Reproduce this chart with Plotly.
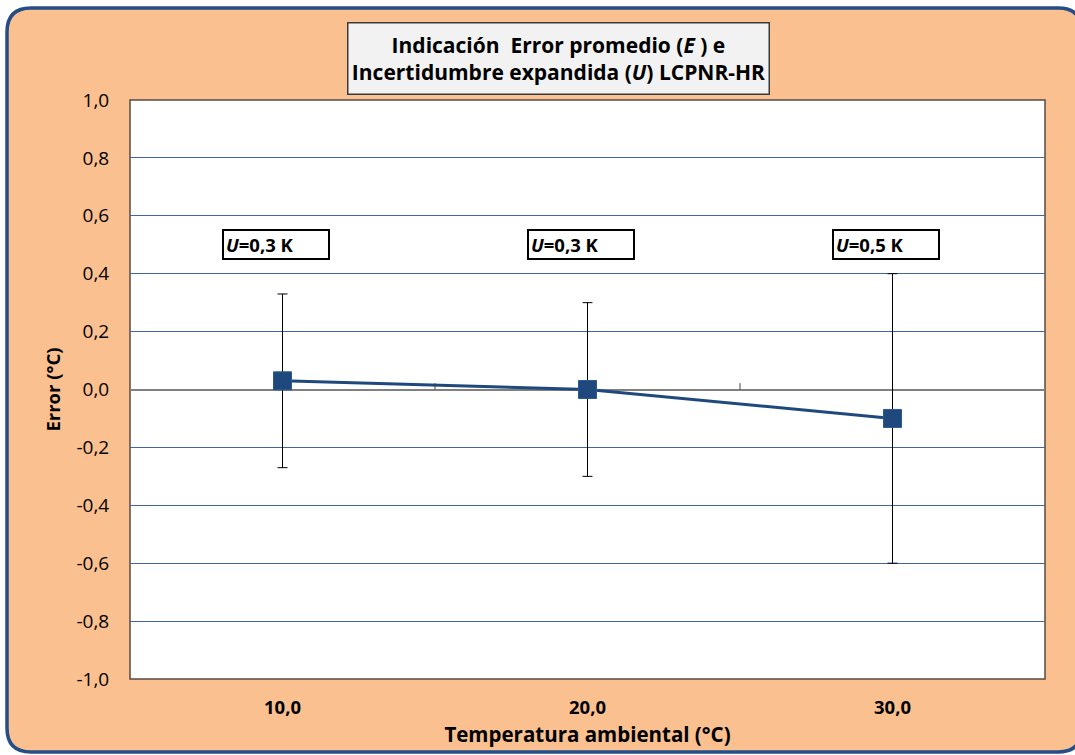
import plotly.graph_objects as go

# ---- data ----
temperatures = ["10,0", "20,0", "30,0"]
error_mean = [0.03, 0.0, -0.10]
uncertainty = [0.3, 0.3, 0.5]
y_ticks = [-1.0, -0.8, -0.6, -0.4, -0.2, 0.0, 0.2, 0.4, 0.6, 0.8, 1.0]
y_ticktext = [f"{v:.1f}".replace(".", ",") for v in y_ticks]

W, H = 1075, 755
ML, MR, MT, MB = 130, 30, 100, 76
PW, PH = W - ML - MR, H - MT - MB


def px(x):
    return (x - ML) / PW


def py(y):
    return (H - MB - y) / PH


BLUE = "#1F497D"
FONT = "Open Sans"

fig = go.Figure()
fig.add_trace(go.Scatter(
    x=temperatures, y=error_mean,
    mode="lines+markers",
    line=dict(color=BLUE, width=3),
    marker=dict(symbol="square", size=18, color=BLUE, line=dict(color="#2B5A92", width=1)),
    error_y=dict(type="data", array=uncertainty, visible=True, color="black", thickness=1, width=5),
    showlegend=False,
))

# outer rounded frame
x0, x1, y0, y1, r = 7, 1082, 8, 752, 24
path = (
    f"M {px(x0+r)} {py(y0)} L {px(x1-r)} {py(y0)} Q {px(x1)} {py(y0)} {px(x1)} {py(y0+r)} "
    f"L {px(x1)} {py(y1-r)} Q {px(x1)} {py(y1)} {px(x1-r)} {py(y1)} "
    f"L {px(x0+r)} {py(y1)} Q {px(x0)} {py(y1)} {px(x0)} {py(y1-r)} "
    f"L {px(x0)} {py(y0+r)} Q {px(x0)} {py(y0)} {px(x0+r)} {py(y0)} Z"
)
shapes = [
    dict(type="path", path=path, xref="paper", yref="paper", fillcolor="#FAC090",
         line=dict(color="#254E86", width=3.5), layer="below"),
    dict(type="rect", x0=0, x1=1, y0=0, y1=1, xref="paper", yref="paper", fillcolor="white",
         line=dict(color="#5A4A42", width=1.5), layer="below"),
]
# minor ticks on the zero-crossing category axis
for xm in [0.5, 1.5]:
    shapes.append(dict(type="line", x0=xm, x1=xm, y0=0, y1=0.022, xref="x", yref="y",
                       line=dict(color="#404040", width=1)))

annotations = [
    dict(text="<b>Indicación  Error promedio (<i>E</i> ) e<br>Incertidumbre expandida (<i>U</i>) LCPNR-HR</b>",
         x=px(558.5), y=py(58.5), xref="paper", yref="paper", xanchor="center", yanchor="middle",
         showarrow=False,
         font=dict(family=FONT, size=21, color="black"), bgcolor="#F2F2F2",
         bordercolor="#3A3A3A", borderwidth=1.5, borderpad=3, width=414, height=64, align="center"),
]
for t, u in zip(temperatures, uncertainty):
    lab = f"{u:.1f}".replace(".", ",")
    annotations.append(dict(
        text=f"<b><i>U</i>=" + lab + " K</b>", x=t, y=0.5, xref="x", yref="y", xshift=-7,
        xanchor="center", yanchor="middle",
        showarrow=False, font=dict(family=FONT, size=18.5, color="black"),
        bgcolor="white", bordercolor="black", borderwidth=2, borderpad=2, width=100, height=23,
        align="left",
    ))

fig.update_layout(
    width=W, height=H,
    margin=dict(l=ML, r=MR, t=MT, b=MB),
    paper_bgcolor="white", plot_bgcolor="rgba(0,0,0,0)",
    shapes=shapes, annotations=annotations,
    font=dict(family=FONT, color="black"),
    xaxis=dict(
        type="category", range=[-0.5, 2.5], showgrid=False, zeroline=False,
        ticks="outside", ticklen=12, tickcolor="rgba(0,0,0,0)",
        tickfont=dict(family=FONT, size=18.5, color="black", weight="bold"),
        title=dict(text="<b>Temperatura ambiental (°C)</b>", font=dict(family=FONT, size=20.5), standoff=9),
        showline=False,
    ),
    yaxis=dict(
        range=[-1.0, 1.0], tickvals=y_ticks, ticktext=y_ticktext,
        showgrid=True, gridcolor="#3F66A0", gridwidth=1,
        zeroline=True, zerolinecolor="#808080", zerolinewidth=2,
        ticks="outside", ticklen=16, tickcolor="rgba(0,0,0,0)",
        tickfont=dict(family=FONT, size=19, color="black"),
        title=dict(text="<b>Error (°C)</b>", font=dict(family=FONT, size=18.5), standoff=10),
        showline=False,
    ),
)

fig.write_html("out.html", config={"displayModeBar": False},
               post_script="document.body.style.margin='0';document.body.style.overflow='hidden';")
